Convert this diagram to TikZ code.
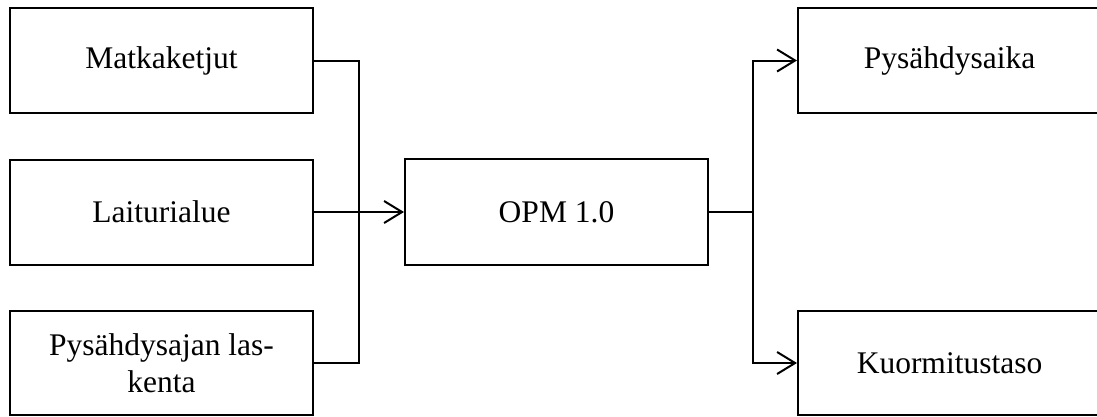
\documentclass[tikz,border=0pt]{standalone}
\usepackage{fontspec}
\setmainfont{Liberation Serif}
\usetikzlibrary{arrows.meta}
\tikzset{
  box/.style={draw, line width=2pt, rectangle, minimum width=303pt,
    minimum height=105pt, inner sep=0pt, align=center,
    font=\fontsize{31.5}{37}\selectfont},
  link/.style={line width=2pt},
  flow/.style={link, -{Straight Barb[length=18pt, width=22pt, line width=2pt]}}
}
\begin{document}
\begin{tikzpicture}[x=1pt, y=-1pt]
  \useasboundingbox (0,0) rectangle (1097,416);
  % inputs
  \node[box] (m) at (161.5,60.5) {Matkaketjut};
  \node[box] (l) at (161.5,212) {Laiturialue};
  \node[box, minimum height=104pt] (p) at (161.5,363) {Pysähdysajan las-\\kenta};
  % model
  \node[box, minimum height=106pt] (opm) at (556.5,212) {OPM 1.0};
  % outputs
  \node[box] (ps) at (949.5,60.5) {Pysähdysaika};
  \node[box, minimum height=104pt] (ku) at (949.5,363) {Kuormitustaso};
  % junctions
  \coordinate (jl) at (359,212);
  \coordinate (jr) at (753,212);
  % connectors
  \draw[link] (m.east) -| (jl) |- (p.east);
  \draw[flow] (l.east) -- (opm.west);
  \draw[link] (opm.east) -- (jr);
  \draw[flow] (jr) |- (ps.west);
  \draw[flow] (jr) |- (ku.west);
\end{tikzpicture}
\end{document}
